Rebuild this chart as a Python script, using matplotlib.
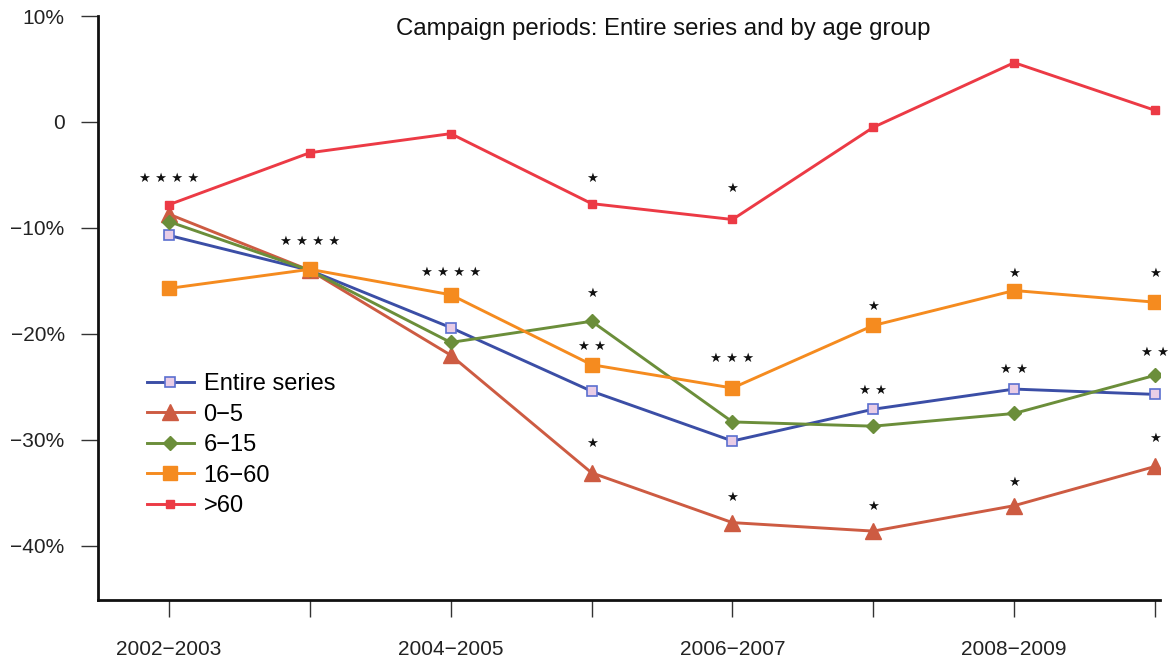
import matplotlib
matplotlib.use("Agg")
import matplotlib.pyplot as plt
from matplotlib.ticker import FuncFormatter

periods = ["2002\u22122003", "", "2004\u22122005", "", "2006\u22122007", "", "2008\u22122009", ""]
x = list(range(8))

entire = [-10.7, -14.0, -19.4, -25.4, -30.1, -27.1, -25.2, -25.7]
age_0_5 = [-8.7, -14.0, -22.0, -33.1, -37.8, -38.6, -36.2, -32.5]
age_6_15 = [-9.4, -14.0, -20.8, -18.8, -28.3, -28.7, -27.5, -23.9]
age_16_60 = [-15.7, -13.9, -16.3, -22.9, -25.1, -19.2, -15.9, -17.0]
age_60p = [-7.8, -2.9, -1.1, -7.7, -9.2, -0.5, 5.6, 1.1]

# significance annotations: (x, y, number of stars)
sig_x = [0, 1, 2, 3, 3, 3, 3, 4, 4, 4, 5, 5, 5, 6, 6, 6, 7, 7, 7]
sig_y = [-5.3, -11.3, -14.2, -5.3, -16.2, -21.2, -30.3, -6.3, -22.3, -35.4,
         -17.4, -25.3, -36.3, -14.3, -23.3, -34.0, -14.3, -21.7, -29.9]
sig_n = [4, 4, 4, 1, 1, 2, 1, 1, 3, 1, 1, 2, 1, 1, 2, 1, 1, 2, 1]

plt.rcParams['font.family'] = ['Liberation Sans', 'DejaVu Sans']

fig = plt.figure(figsize=(11.68, 6.61), dpi=100)
ax = fig.add_axes([98/1168, 61/661, 1062/1168, 584/661])

c_blue = '#3b4ea6'
c_brown = '#cd5b42'
c_green = '#6b8e3a'
c_orange = '#f58b1f'
c_red = '#ec3a45'

lw = 2.1
ax.plot(x, entire, color=c_blue, lw=lw, marker='s', ms=6.5, mfc='#e9cde6', mec='#5b6fd0', mew=1.2,
        label='Entire series', zorder=3)
ax.plot(x, age_0_5, color=c_brown, lw=lw, marker='^', ms=11, label='0\u22125', zorder=3)
ax.plot(x, age_6_15, color=c_green, lw=lw, marker='D', ms=7, label='6\u221215', zorder=3)
ax.plot(x, age_16_60, color=c_orange, lw=lw, marker='s', ms=10.5, label='16\u221260', zorder=3)
ax.plot(x, age_60p, color=c_red, lw=lw, marker='s', ms=6, label='>60', zorder=3)

for xi, yi, n in zip(sig_x, sig_y, sig_n):
    ax.text(xi, yi, ' '.join(['\u2605'] * n), ha='center', va='center', fontsize=9.5,
            family=['DejaVu Sans'], color='#111111')

ax.set_xlim(-0.504, 7.035)
ax.set_ylim(-45.1, 10)
ax.set_xticks(x)
ax.set_xticklabels(periods)
ax.set_yticks([10, 0, -10, -20, -30, -40])
ax.yaxis.set_major_formatter(FuncFormatter(lambda v, p: '0' if v == 0 else f"{int(v)}%".replace('-', '\u2212')))

for s in ['top', 'right']:
    ax.spines[s].set_visible(False)
for s in ['left', 'bottom']:
    ax.spines[s].set_linewidth(2.0)
    ax.spines[s].set_color('#111111')

ax.tick_params(axis='both', direction='out', length=12, width=1.0, color='#333333', labelsize=15, labelcolor='#222222')
ax.tick_params(axis='x', pad=17)
ax.tick_params(axis='y', pad=12)

ax.text(0.532, 0.977, 'Campaign periods: Entire series and by age group', transform=ax.transAxes,
        ha='center', va='center', fontsize=17.3, color='#111111')

leg = ax.legend(loc='center left', bbox_to_anchor=(0.046, 0.265), frameon=False, fontsize=17,
                handlelength=2.0, handletextpad=0.4, labelspacing=0.36, borderpad=0, borderaxespad=0)

fig.savefig('out.png', dpi=100)
